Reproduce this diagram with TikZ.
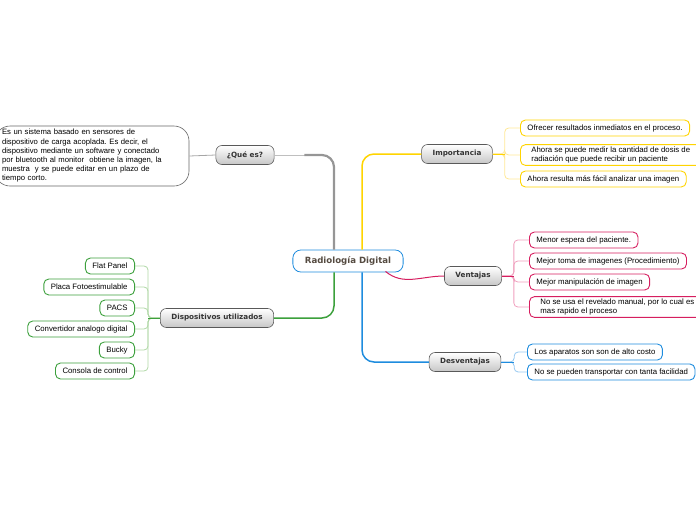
\documentclass[tikz,border=0pt]{standalone}
\usepackage{fontspec}
\setmainfont{Liberation Sans}
\newfontfamily\headfont{DejaVu Sans}
\definecolor{mapgray}{RGB}{150,150,150}
\definecolor{mapyellow}{RGB}{255,212,0}
\definecolor{paleyellow}{RGB}{255,232,150}
\definecolor{mappink}{RGB}{214,30,95}
\definecolor{palepink}{RGB}{240,160,190}
\definecolor{mapblue}{RGB}{30,140,222}
\definecolor{paleblue}{RGB}{150,200,240}
\definecolor{mapgreen}{RGB}{60,160,60}
\definecolor{palegreen}{RGB}{175,215,165}
\definecolor{maptext}{RGB}{85,75,65}
\tikzset{
  topic/.style={draw=black!65, line width=0.6pt, rounded corners=6pt,
    top color=white, bottom color=black!22, text=black!80,
    font=\headfont\bfseries\fontsize{7.2}{8}\selectfont,
    minimum height=19pt, inner xsep=11pt},
  leaf/.style={draw, fill=white, line width=0.9pt, rounded corners=5pt,
    font=\fontsize{7.8}{9.5}\selectfont, align=left,
    minimum height=16pt, inner xsep=7pt, inner ysep=2pt},
}
\usetikzlibrary{positioning}
\frenchspacing

\begin{document}
\begin{tikzpicture}[x=1pt, y=-1pt]
  \useasboundingbox (0,0) rectangle (696,520);

  % Central topic
  \node[draw=mapblue, line width=0.8pt, fill=white, rounded corners=8pt,
        minimum height=22pt, inner xsep=12pt, text=maptext,
        font=\headfont\bfseries\fontsize{8.6}{9}\selectfont]
        (radio) at (348,261) {Radiología Digital};

  % Main topics
  \node[topic] (quees)   at (245,155) {¿Qué es?};
  \node[topic] (import)  at (457,154) {Importancia};
  \node[topic] (ventajas) at (473,276) {Ventajas};
  \node[topic] (desvent) at (465,362) {Desventajas};
  \node[topic] (dispos)  at (217,318) {Dispositivos utilizados};

  % Main connectors
  \draw[black!25, line width=1pt] (quees.east) -- ++(45,0);
  \draw[mapgray, line width=2.2pt, rounded corners=12pt]
    ([xshift=-14pt]radio.north) |- ([xshift=30pt]quees.east);
  \draw[mapyellow, line width=1.5pt, rounded corners=12pt]
    ([xshift=14pt]radio.north) |- (import.west);
  \draw[mapgreen, line width=1.5pt, rounded corners=12pt]
    ([xshift=-14pt]radio.south) |- (dispos.east);
  \draw[mapblue, line width=1.5pt, rounded corners=12pt]
    ([xshift=14pt]radio.south) |- (desvent.west);
  \draw[mappink, line width=1pt]
    ([xshift=-18pt,yshift=1pt]radio.south east) to[out=-40, in=180] (ventajas.west);

  % ¿Qué es?
  \node[draw=black!60, line width=0.6pt, fill=white, rounded corners=15pt,
        text width=180pt, inner xsep=7pt, minimum height=60pt, align=left,
        font=\fontsize{7.7}{9.2}\selectfont]
        (desc) at (92,156) {Es un sistema basado en sensores de\\
        dispositivo de carga acoplada. Es decir, el\\
        dispositivo mediante un software y conectado\\
        por bluetooth al monitor \ obtiene la imagen, la\\
        muestra \ y se puede editar en un plazo de\\
        tiempo corto.};
  \draw[black!35, line width=0.8pt] (quees.west) -- (desc.east);

  % Importancia
  \node[leaf, draw=mapyellow, anchor=west] (imp1) at (520,128)
    {Ofrecer resultados inmediatos en el proceso.};
  \node[leaf, draw=mapyellow, anchor=west, inner xsep=11pt] (imp2) at (520,155)
    {Ahora se puede medir la cantidad de dosis de\\radiación que puede recibir un paciente};
  \node[leaf, draw=mapyellow, anchor=west] (imp3) at (520,179)
    {Ahora resulta más fácil analizar una imagen};
  \foreach \n in {imp1,imp2,imp3}
    \draw[paleyellow, line width=0.8pt, rounded corners=4pt]
      (import.east) -- ++(12,0) |- (\n.west);
  \draw[mapyellow, line width=1pt] (import.east) -- ++(12,0);

  % Ventajas
  \node[leaf, draw=mappink, anchor=west] (ven1) at (529,240) {Menor espera del paciente.};
  \node[leaf, draw=mappink, anchor=west] (ven2) at (529,261) {Mejor toma de imagenes (Procedimiento)};
  \node[leaf, draw=mappink, anchor=west] (ven3) at (529,282) {Mejor manipulación de imagen};
  \node[leaf, draw=mappink, anchor=west, inner xsep=11pt] (ven4) at (529,307)
    {No se usa el revelado manual, por lo cual es\\mas rapido el proceso};
  \foreach \n in {ven1,ven2,ven3,ven4}
    \draw[palepink, line width=0.8pt, rounded corners=4pt]
      (ventajas.east) -- ++(12,0) |- (\n.west);
  \draw[mappink, line width=1pt] (ventajas.east) -- ++(12,0);

  % Desventajas
  \node[leaf, draw=mapblue, anchor=west] (des1) at (527,352) {Los aparatos son son de alto costo};
  \node[leaf, draw=mapblue, anchor=west] (des2) at (527,372) {No se pueden transportar con tanta facilidad};
  \foreach \n in {des1,des2}
    \draw[paleblue, line width=0.8pt, rounded corners=4pt]
      (desvent.east) -- ++(13,0) |- (\n.west);
  \draw[mapblue, line width=1pt] (desvent.east) -- ++(13,0);

  % Dispositivos utilizados
  \node[leaf, draw=mapgreen, anchor=east] (dis1) at (135,266) {Flat Panel};
  \node[leaf, draw=mapgreen, anchor=east] (dis2) at (135,287) {Placa Fotoestimulable};
  \node[leaf, draw=mapgreen, anchor=east] (dis3) at (135,308) {PACS};
  \node[leaf, draw=mapgreen, anchor=east] (dis4) at (135,329) {Convertidor analogo digital};
  \node[leaf, draw=mapgreen, anchor=east] (dis5) at (135,350) {Bucky};
  \node[leaf, draw=mapgreen, anchor=east] (dis6) at (135,371) {Consola de control};
  \foreach \n in {dis1,dis2,dis3,dis4,dis5,dis6}
    \draw[palegreen, line width=0.8pt, rounded corners=4pt]
      (dispos.west) -- ++(-12,0) |- (\n.east);
  \draw[mapgreen, line width=1pt] (dispos.west) -- ++(-12,0);
\end{tikzpicture}
\end{document}
